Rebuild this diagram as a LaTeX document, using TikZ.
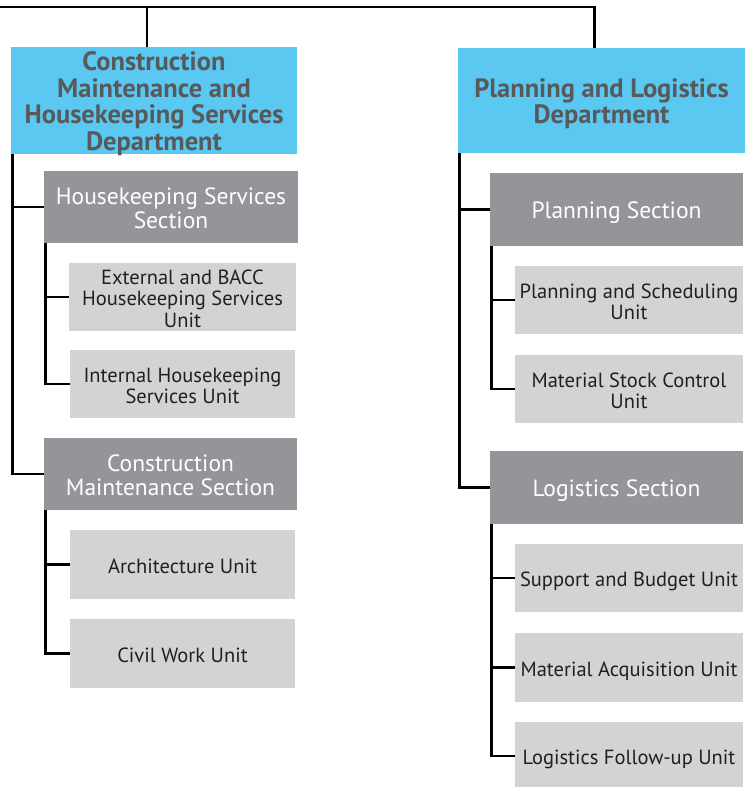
\documentclass[tikz,border=0pt]{standalone}
\usepackage{fontspec}
\setmainfont{PT Sans}
\definecolor{deptblue}{HTML}{5BC8F2}
\definecolor{secgray}{HTML}{939598}
\definecolor{unitgray}{HTML}{D1D3D4}
\definecolor{depttext}{HTML}{58595B}
\definecolor{unittext}{HTML}{231F20}
% centred lines, set a little low in the box
\newcommand{\boxlabel}[1]{\raisebox{-4.5pt}[\height][\depth]{\begin{tabular}{@{}c@{}}#1\end{tabular}}}
\tikzset{
  dept/.style={fill=deptblue, text=depttext, font=\bfseries\fontsize{26.5}{26.5}\selectfont,
    inner sep=0pt, minimum height=105pt},
  sect/.style={fill=secgray, text=white, font=\fontsize{23.5}{24}\selectfont,
    inner sep=0pt, minimum height=72pt},
  unit/.style={fill=unitgray, text=unittext, font=\fontsize{20.5}{21.5}\selectfont,
    inner sep=0pt, minimum height=68pt},
  link/.style={line width=2.8pt}
}
\begin{document}
\begin{tikzpicture}[x=1pt, y=-1pt]
        \useasboundingbox (0,0) rectangle (745,787);

        % Departments
        \node[dept, minimum width=286pt] (cmhDept) at (154,100.5)
          {\boxlabel{Construction\\Maintenance and\\Housekeeping Services\\Department}};
        \node[dept, minimum width=287pt] (planDept) at (601.5,100.5)
          {\boxlabel{Planning and Logistics\\Department}};

        % Left side
        \node[sect, minimum width=254pt] (hkSec) at (171,207) {\boxlabel{Housekeeping Services\\Section}};
        \node[unit, minimum width=227pt] (extUnit) at (182.5,297) {\boxlabel{External and BACC\\Housekeeping Services\\Unit}};
        \node[unit, minimum width=225pt] (intUnit) at (182.5,384) {\boxlabel{Internal Housekeeping\\Services Unit}};
        \node[sect, minimum width=253pt] (cmSec) at (170.5,474) {\boxlabel{Construction\\Maintenance Section}};
        \node[unit, minimum width=225pt, minimum height=69pt] (archUnit) at (182.5,564.5) {\boxlabel{Architecture Unit}};
        \node[unit, minimum width=225pt, minimum height=69pt] (civUnit) at (182.5,653.5) {\boxlabel{Civil Work Unit}};

        % Right side
        \node[sect, minimum width=253pt, minimum height=73pt] (planSec) at (616.5,209.5) {\boxlabel{Planning Section}};
        \node[unit, minimum width=228pt] (schedUnit) at (629,300) {\boxlabel{Planning and Scheduling\\Unit}};
        \node[unit, minimum width=228pt] (stockUnit) at (629,389) {\boxlabel{Material Stock Control\\Unit}};
        \node[sect, minimum width=253pt, minimum height=73pt] (logSec) at (616.5,487.5) {\boxlabel{Logistics Section}};
        \node[unit, minimum width=228pt] (budgUnit) at (629,578) {\boxlabel{Support and Budget Unit}};
        \node[unit, minimum width=228pt, minimum height=69pt] (acqUnit) at (629,667.5) {\boxlabel{Material Acquisition Unit}};
        \node[unit, minimum width=228pt] (followUnit) at (629,756) {\boxlabel{Logistics Follow-up Unit}};

        % Top bar
        \coordinate (barL) at (0,7);
        \draw[link] (barL) -| ([xshift=-7pt]planDept.north);
        \draw[link] ([xshift=-7pt]cmhDept.north) -- ([xshift=-7pt]cmhDept.north |- barL);

        % Left connectors
        \draw[link] ([xshift=2pt]cmhDept.south west) |- (hkSec.west);
        \draw[link] ([xshift=2pt]cmhDept.south west) |- (cmSec.west);
        \draw[link] ([xshift=2pt]hkSec.south west) |- (extUnit.west);
        \draw[link] ([xshift=2pt]hkSec.south west) |- (intUnit.west);
        \draw[link] ([xshift=2pt]cmSec.south west) |- (archUnit.west);
        \draw[link] ([xshift=2pt]cmSec.south west) |- (civUnit.west);

        % Right connectors
        \draw[link] ([xshift=2pt]planDept.south west) |- (planSec.west);
        \draw[link] ([xshift=2pt]planDept.south west) |- (logSec.west);
        \draw[link] ([xshift=2pt]planSec.south west) |- (schedUnit.west);
        \draw[link] ([xshift=2pt]planSec.south west) |- (stockUnit.west);
        \draw[link] ([xshift=2pt]logSec.south west) |- (budgUnit.west);
        \draw[link] ([xshift=2pt]logSec.south west) |- (acqUnit.west);
        \draw[link] ([xshift=2pt]logSec.south west) |- (followUnit.west);
    \end{tikzpicture}
\end{document}
